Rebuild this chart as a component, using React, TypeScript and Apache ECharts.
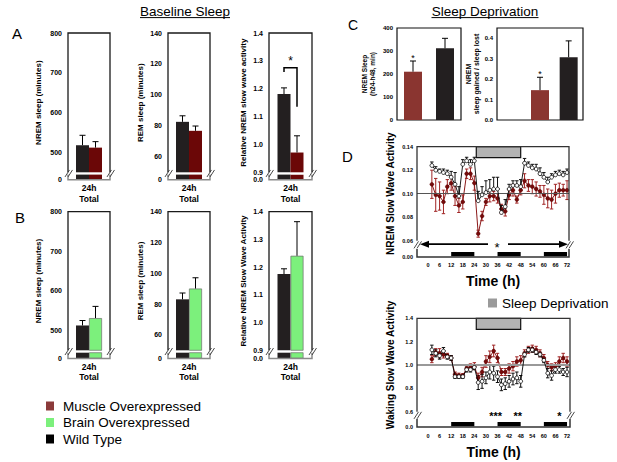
import React, { useEffect, useRef } from 'react';
import * as echarts from 'echarts';

const FONT = 'Arial, "Liberation Sans", Helvetica, sans-serif';
const WT_COLOR = '#231f20';
const MUSCLE_A_COLOR = '#6b0707';
const MUSCLE_C_COLOR = '#8a3530';
const MUSCLE_LEGEND_COLOR = '#8b3a3a';
const BRAIN_COLOR = '#7cf07c';
const SD_FILL = '#b3b3b3';
const D_RED = '#8b1a1a';

// ---------------- data ----------------
const groupsA = ['Wild Type', 'Muscle Overexpressed'];
const groupsB = ['Wild Type', 'Brain Overexpressed'];
const aNremValues = [518, 512];
const aNremErrors = [25, 15];
const aRemValues = [82.6, 76.8];
const aRemErrors = [3.9, 3.1];
const aSwaValues = [1.181, 0.971];
const aSwaErrors = [0.022, 0.06];
const aSwaBracket = [1.275, 1.26, 1.135]; // top, left end, right end
const bNremValues = [512.7, 531.3];
const bNremErrors = [12.5, 29.6];
const bRemValues = [83.1, 90.1];
const bRemErrors = [4.1, 7.0];
const bSwaValues = [1.175, 1.241];
const bSwaErrors = [0.019, 0.123];
const nremMinuteTicks = [500, 600, 700, 800];
const remMinuteTicks = [60, 80, 100, 120, 140];
const relativeSwaTicks = [0.9, 1.0, 1.1, 1.2, 1.3, 1.4];

const groupsC = ['Muscle Overexpressed', 'Wild Type'];
const cNremValues = [210, 311.6];
const cNremErrors = [46.5, 43.5];
const cRatioValues = [0.146, 0.307];
const cRatioErrors = [0.063, 0.08];
const cSignificant = [1, 0];
const cNremTicks = [0, 100, 200, 300, 400];
const cRatioTicks = [0, 0.1, 0.2, 0.3, 0.4];

const timeHours = [2, 4, 6, 8, 10, 12, 14, 16, 18, 20, 22, 24, 26, 28, 30, 32, 34, 36, 38, 40, 42, 44, 46, 48, 50, 52, 54, 56, 58, 60, 62, 64, 66, 68, 70, 72];
const nremSwaWT = [0.124, 0.120, 0.119, 0.118, 0.117, 0.114, 0.108, 0.098, 0.125, 0.128, 0.125, 0.128, 0.094, 0.099, 0.101, 0.103, 0.104, 0.104, 0.084, 0.089, 0.104, 0.107, 0.107, 0.106, 0.126, 0.124, 0.122, 0.121, 0.117, 0.114, 0.110, 0.114, 0.116, 0.117, 0.116, 0.118];
const nremSwaWTErr = [0.003, 0.003, 0.002, 0.003, 0.003, 0.005, 0.010, 0.008, 0.004, 0.003, 0.004, 0.003, 0.008, 0.007, 0.010, 0.009, 0.010, 0.010, 0.006, 0.006, 0.004, 0.004, 0.004, 0.006, 0.004, 0.003, 0.003, 0.004, 0.005, 0.004, 0.004, 0.003, 0.003, 0.003, 0.003, 0.003];
const nremSwaMuscle = [0.108, 0.099, 0.098, 0.093, 0.106, 0.109, 0.098, 0.090, 0.093, 0.117, 0.117, 0.109, 0.066, 0.081, 0.093, 0.098, 0.098, 0.096, 0.087, 0.085, 0.099, 0.103, 0.095, 0.103, 0.111, 0.107, 0.106, 0.104, 0.102, 0.099, 0.096, 0.095, 0.100, 0.103, 0.103, 0.103];
const nremSwaMuscleErr = [0.012, 0.014, 0.012, 0.010, 0.006, 0.006, 0.008, 0.006, 0.006, 0.004, 0.005, 0.006, 0.003, 0.004, 0.003, 0.005, 0.004, 0.004, 0.004, 0.004, 0.004, 0.005, 0.003, 0.004, 0.006, 0.005, 0.006, 0.006, 0.005, 0.008, 0.008, 0.008, 0.008, 0.006, 0.005, 0.008];
const wakeSwaWT = [1.13, 1.10, 1.08, 1.12, 1.07, 1.06, 0.90, 0.90, 0.90, 0.96, 0.96, 0.98, 0.85, 0.86, 0.89, 0.94, 0.93, 0.90, 0.83, 0.84, 0.86, 0.88, 0.89, 0.86, 1.09, 1.13, 1.13, 1.11, 1.09, 1.04, 0.93, 0.91, 0.96, 0.96, 0.94, 0.94];
const wakeSwaWTErr = [0.04, 0.03, 0.03, 0.03, 0.02, 0.02, 0.015, 0.015, 0.015, 0.02, 0.02, 0.02, 0.06, 0.06, 0.05, 0.06, 0.06, 0.05, 0.05, 0.05, 0.05, 0.05, 0.05, 0.05, 0.02, 0.02, 0.02, 0.02, 0.02, 0.02, 0.04, 0.04, 0.03, 0.03, 0.03, 0.04];
const wakeSwaMuscle = [1.05, 1.11, 1.10, 1.09, 1.08, 1.06, 0.92, 0.91, 0.91, 0.97, 0.98, 0.99, 0.89, 0.94, 1.03, 1.07, 1.12, 1.06, 0.94, 0.94, 0.97, 0.99, 1.03, 1.04, 1.10, 1.13, 1.14, 1.13, 1.10, 1.06, 1.00, 0.98, 0.99, 1.03, 1.06, 1.03];
const wakeSwaMuscleErr = [0.03, 0.03, 0.04, 0.03, 0.02, 0.02, 0.02, 0.02, 0.015, 0.02, 0.03, 0.03, 0.04, 0.04, 0.05, 0.05, 0.05, 0.04, 0.03, 0.03, 0.04, 0.04, 0.04, 0.04, 0.03, 0.03, 0.03, 0.03, 0.03, 0.03, 0.03, 0.03, 0.03, 0.04, 0.04, 0.04];
const timeTicks = [0, 6, 12, 18, 24, 30, 36, 42, 48, 54, 60, 66, 72];
const nremSwaTicks = [0.06, 0.08, 0.10, 0.12, 0.14];
const wakeSwaTicks = [0.6, 0.8, 1.0, 1.2, 1.4];
const darkPhases = [[12, 24], [36, 48], [60, 72]];
const sleepDeprivation = [[25, 48]];
const wakeSignificance = [[35, 3], [46.5, 2], [68, 1]];

// ---------------- layout ----------------
type Frame = { left: number; width: number; top: number; ub: number; lt: number; lb: number };
const ROW_A = { top: 33, ub: 172.3, lt: 174.6, lb: 179.8 };
const ROW_B = { top: 211.7, ub: 350.3, lt: 352.7, lb: 358.5 };
const COLS = [
  { left: 68, width: 42, nameGap: 26 },
  { left: 168, width: 42, nameGap: 24 },
  { left: 269, width: 43, nameGap: 22 },
];
const D_TOP: Frame = { left: 417, width: 152, top: 146.7, ub: 240.7, lt: 249, lb: 257 };
const D_BOT: Frame = { left: 417, width: 153, top: 318.3, ub: 411.7, lt: 419, lb: 427 };
const D_XMIN = -5.7;

const TICK = { color: '#000', fontWeight: 'bold', fontFamily: FONT };

function errorBars(xAxisIndex: number, yAxisIndex: number, data: number[][], offset: number, color: string, dir: string, cap: number, z = 4) {
  return {
    type: 'custom',
    xAxisIndex,
    yAxisIndex,
    data,
    silent: true,
    z,
    encode: { x: 0, y: 1 },
    renderItem: (_p: any, api: any) => {
      const x = api.value(0);
      const v = api.value(1);
      const e = api.value(2);
      const p = api.coord([x, v]);
      const cx = p[0] + offset;
      const top = dir !== 'down' ? api.coord([x, v + e])[1] : p[1];
      const bot = dir !== 'up' ? api.coord([x, v - e])[1] : p[1];
      const st = { stroke: color, lineWidth: 1 };
      const children: any[] = [{ type: 'line', shape: { x1: cx, y1: top, x2: cx, y2: bot }, style: st }];
      if (dir !== 'down') children.push({ type: 'line', shape: { x1: cx - cap, y1: top, x2: cx + cap, y2: top }, style: st });
      if (dir !== 'up') children.push({ type: 'line', shape: { x1: cx - cap, y1: bot, x2: cx + cap, y2: bot }, style: st });
      if (api.value(3) === 1) {
        children.push({ type: 'text', style: { text: '*', x: cx, y: top + 1, align: 'center', verticalAlign: 'bottom', fontSize: 9, fontFamily: FONT, fill: '#000' } });
      }
      return { type: 'group', children };
    },
  };
}

function breakMark(x: number, y: number) {
  const st = { stroke: '#333', lineWidth: 0.9 };
  return [
    { type: 'line', z: 60, shape: { x1: x - 4, y1: y + 3.5, x2: x + 0.5, y2: y - 3.5 }, style: st },
    { type: 'line', z: 60, shape: { x1: x - 1, y1: y + 3.5, x2: x + 3.5, y2: y - 3.5 }, style: st },
  ];
}

function splitFrame(f: Frame, upperColor: string, lowerColor: string) {
  const L = f.left;
  const R = f.left + f.width;
  const mid = (f.ub + f.lt) / 2;
  return [
    { type: 'polyline', z: 55, shape: { points: [[L, f.ub], [L, f.top], [R, f.top], [R, f.ub]] }, style: { stroke: upperColor, lineWidth: 1.3, fill: 'none' } },
    { type: 'polyline', z: 55, shape: { points: [[L, f.lt], [L, f.lb], [R, f.lb], [R, f.lt]] }, style: { stroke: lowerColor, lineWidth: 1.5, fill: 'none' } },
    ...breakMark(L + 1, mid),
    ...breakMark(R + 1, mid),
  ];
}

function buildOption() {
  const grid: any[] = [];
  const xAxis: any[] = [];
  const yAxis: any[] = [];
  const series: any[] = [];
  const graphic: any[] = [];

  const addSplitBars = (col: any, row: any, o: any) => {
    const f: Frame = { left: col.left, width: col.width, ...row };
    const gU = grid.push({ left: f.left, top: f.top, width: f.width, height: f.ub - f.top }) - 1;
    const gL = grid.push({ left: f.left, top: f.lt, width: f.width, height: f.lb - f.lt }) - 1;
    const xU = xAxis.push({ gridIndex: gU, type: 'category', data: [''], show: false }) - 1;
    const xL = xAxis.push({
      gridIndex: gL, type: 'category', data: [''],
      axisLine: { show: false }, axisTick: { show: false }, axisLabel: { show: false },
      name: '24h\nTotal', nameLocation: 'middle', nameGap: 3,
      nameTextStyle: { fontSize: 8.5, fontWeight: 'bold', lineHeight: 10.5, color: '#000', fontFamily: FONT },
    }) - 1;
    const yU = yAxis.push({
      gridIndex: gU, type: 'value', min: o.min, max: o.max,
      splitLine: { show: false }, axisLine: { show: false }, axisTick: { show: false },
      axisLabel: { ...TICK, fontSize: 7, margin: 6, customValues: o.ticks, formatter: (v: number) => v.toFixed(o.decimals) },
      name: o.yName, nameLocation: 'middle', nameRotate: 90, nameGap: col.nameGap,
      nameTextStyle: { fontSize: 8, fontWeight: 'bold', color: '#000', fontFamily: FONT },
    }) - 1;
    const yL = yAxis.push({
      gridIndex: gL, type: 'value', min: 0, max: 1,
      splitLine: { show: false }, axisLine: { show: false }, axisTick: { show: false },
      axisLabel: { ...TICK, fontSize: 7, margin: 6, customValues: [0], formatter: () => o.zeroLabel },
    }) - 1;
    o.values.forEach((v: number, i: number) => {
      const itemStyle = { color: o.colors[i], borderColor: o.borders[i] || 'transparent', borderWidth: o.borders[i] ? 0.7 : 0 };
      series.push({ type: 'bar', name: o.names[i], xAxisIndex: xU, yAxisIndex: yU, data: [v], barWidth: 13, barGap: '0%', itemStyle, clip: true });
      series.push({ type: 'bar', name: o.names[i], xAxisIndex: xL, yAxisIndex: yL, data: [v], barWidth: 13, barGap: '0%', itemStyle, clip: true });
      series.push(errorBars(xU, yU, [[0, v, o.errors[i]]], i === 0 ? -6.5 : 6.5, '#000', 'up', 3));
    });
    graphic.push(...splitFrame(f, '#1a1a1a', '#8a8a8a'));
    return { xU, yU };
  };

  // Panel A
  addSplitBars(COLS[0], ROW_A, { min: 450, max: 800, ticks: nremMinuteTicks, decimals: 0, yName: 'NREM sleep (minutes)', zeroLabel: '0', values: aNremValues, errors: aNremErrors, colors: [WT_COLOR, MUSCLE_A_COLOR], borders: [null, null], names: groupsA });
  addSplitBars(COLS[1], ROW_A, { min: 50, max: 140, ticks: remMinuteTicks, decimals: 0, yName: 'REM sleep (minutes)', zeroLabel: '0', values: aRemValues, errors: aRemErrors, colors: [WT_COLOR, MUSCLE_A_COLOR], borders: [null, null], names: groupsA });
  const a3 = addSplitBars(COLS[2], ROW_A, { min: 0.9, max: 1.4, ticks: relativeSwaTicks, decimals: 1, yName: 'Relative NREM slow wave activity', zeroLabel: '0.0', values: aSwaValues, errors: aSwaErrors, colors: [WT_COLOR, MUSCLE_A_COLOR], borders: [null, null], names: groupsA });
  series.push({
    type: 'custom', xAxisIndex: a3.xU, yAxisIndex: a3.yU, data: [[0, ...aSwaBracket]], silent: true, z: 6,
    encode: { x: 0, y: 1 },
    renderItem: (_p: any, api: any) => {
      const top = api.coord([0, api.value(1)]);
      const lEnd = api.coord([0, api.value(2)])[1];
      const rEnd = api.coord([0, api.value(3)])[1];
      const lx = top[0] - 6.5;
      const rx = top[0] + 6.5;
      return {
        type: 'group',
        children: [
          { type: 'polyline', shape: { points: [[lx, lEnd], [lx, top[1]], [rx, top[1]], [rx, rEnd]] }, style: { stroke: '#000', lineWidth: 1.5, fill: 'none' } },
          { type: 'text', style: { text: '*', x: (lx + rx) / 2, y: top[1] - 1, align: 'center', verticalAlign: 'bottom', fontSize: 12, fontFamily: FONT, fill: '#000' } },
        ],
      };
    },
  });

  // Panel B
  addSplitBars(COLS[0], ROW_B, { min: 450, max: 800, ticks: nremMinuteTicks, decimals: 0, yName: 'NREM sleep (minutes)', zeroLabel: '0', values: bNremValues, errors: bNremErrors, colors: [WT_COLOR, BRAIN_COLOR], borders: [null, '#6d6d6d'], names: groupsB });
  addSplitBars(COLS[1], ROW_B, { min: 50, max: 140, ticks: remMinuteTicks, decimals: 0, yName: 'REM sleep (minutes)', zeroLabel: '0', values: bRemValues, errors: bRemErrors, colors: [WT_COLOR, BRAIN_COLOR], borders: [null, '#6d6d6d'], names: groupsB });
  addSplitBars(COLS[2], ROW_B, { min: 0.9, max: 1.4, ticks: relativeSwaTicks, decimals: 1, yName: 'Relative NREM Slow Wave Activity', zeroLabel: '0.0', values: bSwaValues, errors: bSwaErrors, colors: [WT_COLOR, BRAIN_COLOR], borders: [null, '#6d6d6d'], names: groupsB });

  // Panel C
  const cBox = { show: true, borderColor: '#111', borderWidth: 1.2, backgroundColor: 'transparent' };
  const gC1 = grid.push({ left: 397, top: 28, width: 64, height: 92, ...cBox }) - 1;
  const xC1 = xAxis.push({ gridIndex: gC1, type: 'category', data: groupsC, show: false }) - 1;
  const yC1 = yAxis.push({
    gridIndex: gC1, type: 'value', min: 0, max: 400, interval: 100,
    splitLine: { show: false }, axisLine: { show: false }, axisTick: { show: false },
    axisLabel: { ...TICK, fontSize: 6, margin: 4, customValues: cNremTicks },
    name: 'NREM Sleep\n(h24-h48, min)', nameLocation: 'middle', nameRotate: 90, nameGap: 21,
    nameTextStyle: { fontSize: 6.5, fontWeight: 'bold', lineHeight: 7.5, color: '#000', fontFamily: FONT },
  }) - 1;
  series.push({
    type: 'bar', xAxisIndex: xC1, yAxisIndex: yC1, barWidth: 18,
    data: cNremValues.map((v, i) => ({ value: v, itemStyle: { color: i === 0 ? MUSCLE_C_COLOR : WT_COLOR } })),
  });
  series.push(errorBars(xC1, yC1, cNremValues.map((v, i) => [i, v, cNremErrors[i], cSignificant[i]]), 0, '#000', 'up', 3));

  const gC2 = grid.push({ left: 497, top: 28, width: 86, height: 92, ...cBox }) - 1;
  const xC2 = xAxis.push({ gridIndex: gC2, type: 'category', data: groupsC, min: -1, show: false }) - 1;
  const yC2 = yAxis.push({
    gridIndex: gC2, type: 'value', min: 0, max: 0.45,
    splitLine: { show: false }, axisLine: { show: false }, axisTick: { show: false },
    axisLabel: { ...TICK, fontSize: 6, margin: 4, customValues: cRatioTicks, formatter: (v: number) => v.toFixed(1) },
    name: 'NREM\nsleep gained / sleep lost', nameLocation: 'middle', nameRotate: 90, nameGap: 13,
    nameTextStyle: { fontSize: 7, fontWeight: 'bold', lineHeight: 8, color: '#000', fontFamily: FONT },
  }) - 1;
  series.push({
    type: 'bar', xAxisIndex: xC2, yAxisIndex: yC2, barWidth: 18,
    data: cRatioValues.map((v, i) => ({ value: v, itemStyle: { color: i === 0 ? MUSCLE_C_COLOR : WT_COLOR } })),
  });
  series.push(errorBars(xC2, yC2, cRatioValues.map((v, i) => [i, v, cRatioErrors[i], cSignificant[i]]), 0, '#000', 'up', 3));

  // Panel D
  const addTimeChart = (f: Frame, o: any) => {
    const xMax = D_XMIN + f.width / 1.931;
    const gU = grid.push({ left: f.left, top: f.top, width: f.width, height: f.ub - f.top }) - 1;
    const gL = grid.push({ left: f.left, top: f.lt, width: f.width, height: f.lb - f.lt }) - 1;
    const xU = xAxis.push({ gridIndex: gU, type: 'value', min: D_XMIN, max: xMax, show: false }) - 1;
    const xL = xAxis.push({
      gridIndex: gL, type: 'value', min: D_XMIN, max: xMax,
      splitLine: { show: false }, axisLine: { show: false }, axisTick: { show: false },
      axisLabel: { ...TICK, fontSize: 5.5, margin: o.labelMargin, customValues: timeTicks },
      name: 'Time (h)', nameLocation: 'middle', nameGap: o.nameGap,
      nameTextStyle: { fontSize: 14, fontWeight: 'bold', color: '#000', fontFamily: FONT },
    }) - 1;
    const yU = yAxis.push({
      gridIndex: gU, type: 'value', min: o.min, max: o.max, interval: o.interval,
      splitLine: { show: false }, axisLine: { show: false }, axisTick: { show: false },
      axisLabel: { ...TICK, fontSize: 5.5, margin: 4, customValues: o.ticks, formatter: (v: number) => v.toFixed(o.decimals) },
      name: o.yName, nameLocation: 'middle', nameRotate: 90, nameGap: 22,
      nameTextStyle: { fontSize: 10, fontWeight: 'bold', color: '#000', fontFamily: FONT },
    }) - 1;
    const yL = yAxis.push({
      gridIndex: gL, type: 'value', min: 0, max: 1,
      splitLine: { show: false }, axisLine: { show: false }, axisTick: { show: false },
      axisLabel: { ...TICK, fontSize: 5.5, margin: 4, customValues: [0], formatter: () => o.zeroLabel },
    }) - 1;
    const yMax = o.max;
    series.push({
      type: 'custom', name: 'Sleep Deprivation', xAxisIndex: xU, yAxisIndex: yU, data: sleepDeprivation, silent: true, z: 1,
      encode: { x: [0, 1] }, itemStyle: { color: '#9a9a9a' },
      renderItem: (_p: any, api: any) => {
        const a = api.coord([api.value(0), yMax]);
        const b = api.coord([api.value(1), yMax]);
        return { type: 'rect', shape: { x: a[0], y: a[1], width: b[0] - a[0], height: 11 }, style: { fill: SD_FILL, stroke: '#111', lineWidth: 1.2 } };
      },
    });
    series.push(errorBars(xU, yU, timeHours.map((t, i) => [t, o.muscle[i], o.muscleErr[i]]), 0, '#a02424', o.muscleDir, 1.7, 2));
    series.push(errorBars(xU, yU, timeHours.map((t, i) => [t, o.wt[i], o.wtErr[i]]), 0, '#111', o.wtDir, 1.7, 3));
    series.push({
      type: 'line', name: 'Muscle Overexpressed', xAxisIndex: xU, yAxisIndex: yU, z: 4,
      data: timeHours.map((t, i) => [t, o.muscle[i]]),
      symbol: 'circle', symbolSize: 3.8,
      itemStyle: { color: '#760b0b', borderColor: '#5a0000', borderWidth: 0.5 },
      lineStyle: { color: D_RED, width: 1 },
      markLine: { silent: true, symbol: ['none', 'none'], label: { show: false }, data: [{ yAxis: o.ref }], lineStyle: { color: o.refColor, width: o.refWidth, type: 'solid' } },
    });
    series.push({
      type: 'line', name: 'Wild Type', xAxisIndex: xU, yAxisIndex: yU, z: 5,
      data: timeHours.map((t, i) => [t, o.wt[i]]),
      symbol: 'circle', symbolSize: 3.8,
      itemStyle: { color: '#ffffff', borderColor: '#000', borderWidth: 0.8 },
      lineStyle: { color: '#000', width: 0.9 },
    });
    series.push({
      type: 'custom', xAxisIndex: xL, yAxisIndex: yL, data: darkPhases, silent: true, z: 3,
      encode: { x: [0, 1] },
      renderItem: (_p: any, api: any) => {
        const a = api.coord([api.value(0), 0]);
        const b = api.coord([api.value(1), 0]);
        return { type: 'rect', shape: { x: a[0], y: a[1] - 5, width: b[0] - a[0], height: 4.3 }, style: { fill: '#000' } };
      },
    });
    graphic.push(...splitFrame(f, '#333', '#333'));
    return { xU, yU };
  };

  addTimeChart(D_TOP, {
    min: 0.06, max: 0.14, interval: 0.02, ticks: nremSwaTicks, decimals: 2, zeroLabel: '0.00',
    yName: 'NREM Slow Wave Activity', wt: nremSwaWT, wtErr: nremSwaWTErr, muscle: nremSwaMuscle, muscleErr: nremSwaMuscleErr,
    wtDir: 'up', muscleDir: 'both', ref: 0.1, refColor: '#555', refWidth: 1, labelMargin: 5, nameGap: 17,
  });
  const dBot = addTimeChart(D_BOT, {
    min: 0.6, max: 1.4, interval: 0.2, ticks: wakeSwaTicks, decimals: 1, zeroLabel: '0.0',
    yName: 'Waking Slow Wave Activity', wt: wakeSwaWT, wtErr: wakeSwaWTErr, muscle: wakeSwaMuscle, muscleErr: wakeSwaMuscleErr,
    wtDir: 'both', muscleDir: 'both', ref: 1.0, refColor: '#999', refWidth: 1.8, labelMargin: 6, nameGap: 18,
  });
  series.push({
    type: 'custom', xAxisIndex: dBot.xU, yAxisIndex: dBot.yU, data: wakeSignificance, silent: true, z: 6,
    encode: { x: 0, y: 1 },
    renderItem: (_p: any, api: any) => {
      const p = api.coord([api.value(0), 0.6]);
      return { type: 'text', style: { text: '*'.repeat(api.value(1)), x: p[0], y: p[1] + 4, align: 'center', verticalAlign: 'middle', fontSize: 11, fontWeight: 'bold', fontFamily: FONT, fill: '#000' } };
    },
  });

  // NREM whole-period significance arrow
  const ay = D_TOP.ub + 3.5;
  const aL = D_TOP.left + 3;
  const aR = D_TOP.left + D_TOP.width - 1;
  const sx = D_TOP.left + 80;
  const ast = { stroke: '#000', lineWidth: 1.8 };
  graphic.push(
    { type: 'line', z: 60, shape: { x1: aL + 7, y1: ay, x2: sx - 9, y2: ay }, style: ast },
    { type: 'line', z: 60, shape: { x1: sx + 11, y1: ay, x2: aR - 7, y2: ay }, style: ast },
    { type: 'polygon', z: 60, shape: { points: [[aL, ay], [aL + 9, ay - 3.5], [aL + 9, ay + 3.5]] }, style: { fill: '#000' } },
    { type: 'polygon', z: 60, shape: { points: [[aR, ay], [aR - 9, ay - 3.5], [aR - 9, ay + 3.5]] }, style: { fill: '#000' } },
    { type: 'text', z: 60, style: { text: '*', x: sx, y: ay + 3, align: 'center', verticalAlign: 'middle', fontSize: 13, fontFamily: FONT, fill: '#000' } },
  );

  // titles & letters
  const txt = (text: string, x: number, y: number, size: number, align = 'left') => ({
    type: 'text', z: 60, style: { text, x, y, fontSize: size, fontFamily: FONT, fill: '#000', align, verticalAlign: 'middle' },
  });
  graphic.push(
    txt('Baseline Sleep', 185, 11.5, 13.5, 'center'),
    { type: 'line', z: 60, shape: { x1: 140, y1: 17.6, x2: 230, y2: 17.6 }, style: { stroke: '#000', lineWidth: 1 } },
    txt('Sleep Deprivation', 485, 11.5, 13.5, 'center'),
    { type: 'line', z: 60, shape: { x1: 431.5, y1: 17.6, x2: 538.5, y2: 17.6 }, style: { stroke: '#000', lineWidth: 1 } },
    txt('A', 12, 33, 15),
    txt('B', 15, 217, 15),
    txt('C', 348, 25, 14),
    txt('D', 342, 156, 15),
  );

  return {
    animation: false,
    backgroundColor: '#fff',
    textStyle: { fontFamily: FONT },
    grid,
    xAxis,
    yAxis,
    series,
    graphic,
    legend: [
      {
        left: 46, top: 399, padding: 0, orient: 'vertical', icon: 'rect', itemWidth: 8, itemHeight: 9, itemGap: 2.5, selectedMode: false,
        textStyle: { fontSize: 13.5, lineHeight: 14, color: '#000', fontFamily: FONT, padding: [0, 0, 0, 4] },
        data: [
          { name: 'Muscle Overexpressed', itemStyle: { color: MUSCLE_LEGEND_COLOR, borderWidth: 0 } },
          { name: 'Brain Overexpressed', itemStyle: { color: BRAIN_COLOR, borderWidth: 0 } },
          { name: 'Wild Type', itemStyle: { color: '#000', borderWidth: 0 } },
        ],
      },
      {
        left: 488, top: 296, padding: 0, icon: 'rect', itemWidth: 9, itemHeight: 9, selectedMode: false,
        textStyle: { fontSize: 13.5, lineHeight: 14, color: '#000', fontFamily: FONT },
        data: [{ name: 'Sleep Deprivation', itemStyle: { color: '#9a9a9a', borderWidth: 0 } }],
      },
    ],
  };
}

export default function App() {
  const ref = useRef<HTMLDivElement>(null);
  useEffect(() => {
    const chart = echarts.init(ref.current as HTMLDivElement, null, { renderer: 'svg' });
    chart.setOption(buildOption() as any);
    return () => chart.dispose();
  }, []);
  return <div ref={ref} style={{ position: 'fixed', left: 0, top: 0, width: 617, height: 462, background: '#fff' }} />;
}
